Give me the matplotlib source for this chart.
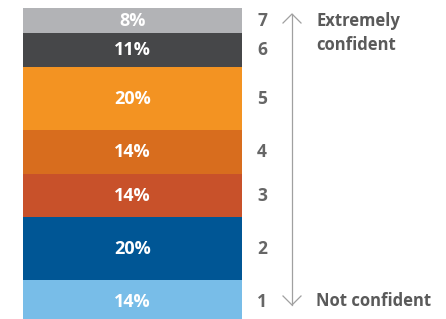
import matplotlib.pyplot as plt

# data, bottom to top
levels = ['1', '2', '3', '4', '5', '6', '7']
shares = [14, 20, 14, 14, 20, 11, 8]
colors = ['#78bde8', '#005695', '#c8512a', '#d86d1e', '#f39322', '#464749', '#b2b3b6']
top_label = 'Extremely\nconfident'
bottom_label = 'Not confident'

plt.rcParams['font.family'] = ['Open Sans', 'DejaVu Sans']

fig = plt.figure(figsize=(4.46, 3.19), dpi=100)
ax = fig.add_axes([23 / 446, 0, 219 / 446, 311 / 319])

bottom = 0
for lvl, s, c in zip(levels, shares, colors):
    ax.bar(0, s, bottom=bottom, width=1, color=c, linewidth=0)
    mid = bottom + s / 2
    ax.text(0, mid, '{}%'.format(s), ha='center', va='center',
            color='white', fontsize=13, fontweight='bold')
    # level number to the right of the bar
    ax.annotate(lvl, xy=(1, mid), xycoords=('axes fraction', 'data'),
                xytext=(20, 0), textcoords='offset pixels',
                ha='center', va='center', color='#666666',
                fontsize=12.5, fontweight='bold', annotation_clip=False)
    bottom += s

ax.set_xlim(-0.5, 0.5)
ax.set_ylim(1.5, bottom)
ax.axis('off')

# vertical double arrow with open chevron heads
x_arr = 292 / 446
fig.add_artist(plt.Line2D([x_arr, x_arr], [1 - 14 / 319, 1 - 305 / 319],
                          color='#a0a0a0', lw=0.9))
for tip, d in [(14, 1), (305, -1)]:
    yt = 1 - tip / 319
    dy = 9 / 319
    dx = 9 / 446
    fig.add_artist(plt.Line2D([x_arr - dx, x_arr, x_arr + dx],
                              [yt - d * dy, yt, yt - d * dy],
                              color='#a0a0a0', lw=0.9))

fig.text(316 / 446, 1 - 33 / 319, top_label, ha='left', va='center',
         color='#5a5a5a', fontsize=12, fontweight='bold', linespacing=1.5)
fig.text(316 / 446, 1 - 301 / 319, bottom_label, ha='left', va='center',
         color='#5a5a5a', fontsize=12, fontweight='bold')

fig.savefig('out.png', dpi=100)
